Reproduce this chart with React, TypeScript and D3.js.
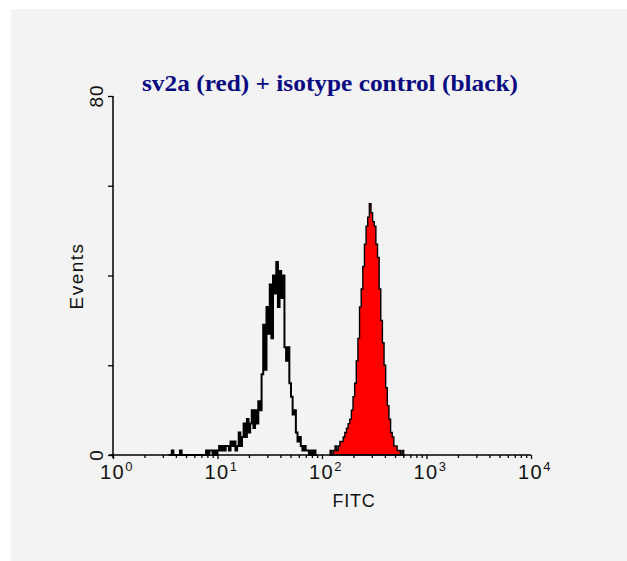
import React, { useEffect, useRef } from 'react';
import * as d3 from 'd3';

// histogram: 256 channels over 4 log decades
const channels = 256;
const decades = 4;

// isotype control (black outline), counts from channel 34
const isotypeStart = 34;
const isotypeCounts = [
    0, 0, 1, 0, 0, 0, 0, 1, 0, 0, 0, 0, 0, 0, 0, 0, 0, 0, 0, 0, 0, 0, 0,
    1, 0, 1, 1, 0, 1, 0, 1, 2, 1, 2, 1, 2, 2, 1, 3, 2, 3, 1, 2, 5, 2, 4,
    7, 4, 8, 5, 7, 10, 6, 10, 7, 12, 10, 18, 29, 19, 33, 27, 38, 26, 40, 36,
    43, 33, 41, 35, 40, 24, 21, 24, 16, 13, 9, 10, 5, 3, 4, 2, 1, 2, 1, 1,
    0, 1, 0, 1, 0,
];

// sv2a (red filled), counts from channel 133
const sv2aStart = 133;
const sv2aCounts = [
    1, 0, 1, 2, 1, 2, 3, 3, 4, 5, 6, 7, 8, 10, 13, 16, 21, 26, 33, 37,
    42, 47, 51, 53, 56, 54, 52, 51, 47, 44, 37, 30, 25, 20, 15, 11, 8, 5, 4,
    2, 2, 1, 1, 0, 1, 0,
];

const xDecades = [0, 1, 2, 3, 4];
const yTicks = [0, 20, 40, 60, 80];
const yLabels = [0, 80];
const title = 'sv2a (red) + isotype control (black)';

const chToValue = (ch: number) => Math.pow(10, (ch * decades) / channels);

export default function App() {
    const chartRef = useRef<SVGSVGElement | null>(null);

    const width = 627;
    const height = 561;

    const xScale = d3.scaleLog().domain([1, 1e4]).range([113, 531]);
    const yScale = d3.scaleLinear().domain([0, 80]).range([455, 96]);

    useEffect(() => {
        const svg = d3.select(chartRef.current);
        svg.selectAll('*').remove();

        // grey panel
        svg.append('rect')
            .attr('x', 11).attr('y', 9)
            .attr('width', width - 11).attr('height', height - 9)
            .attr('fill', '#f3f3f3');

        const toPoints = (start: number, counts: number[]) => {
            const pts = counts.map((c, i) => ({ ch: start + i, c }));
            pts.push({ ch: start + counts.length, c: 0 });
            return pts;
        };

        const area = d3.area<{ ch: number; c: number }>()
            .curve(d3.curveStepAfter)
            .x(d => xScale(chToValue(d.ch)))
            .y0(yScale(0))
            .y1(d => yScale(d.c));

        const line = d3.line<{ ch: number; c: number }>()
            .curve(d3.curveStepAfter)
            .x(d => xScale(chToValue(d.ch)))
            .y(d => yScale(d.c));

        svg.append('path')
            .attr('d', area(toPoints(sv2aStart, sv2aCounts)))
            .attr('fill', '#ff0000')
            .attr('stroke', '#000')
            .attr('stroke-width', 1.4);

        svg.append('path')
            .attr('d', line(toPoints(isotypeStart, isotypeCounts)))
            .attr('fill', 'none')
            .attr('stroke', '#000')
            .attr('stroke-width', 2);

        // x axis: minor ticks then major ticks
        const minor: number[] = [];
        for (let d = 0; d < 4; d++) {
            for (let k = 2; k < 10; k++) minor.push(k * Math.pow(10, d));
        }
        const xAxisMinor = d3.axisBottom(xScale)
            .tickValues(minor).tickSize(3).tickSizeOuter(0).tickFormat(() => '');
        const xAxisMajor = d3.axisBottom(xScale)
            .tickValues(xDecades.map(d => Math.pow(10, d)))
            .tickSize(4).tickSizeOuter(0).tickFormat(() => '');

        const gxMinor = svg.append('g').attr('transform', `translate(0,${yScale(0)})`).call(xAxisMinor);
        const gx = svg.append('g').attr('transform', `translate(0,${yScale(0)})`).call(xAxisMajor);
        [gxMinor, gx].forEach(g => {
            g.select('.domain').remove();
            g.selectAll('line').attr('stroke', '#000').attr('stroke-width', 1.3);
        });

        svg.append('line')
            .attr('x1', 109).attr('x2', 531)
            .attr('y1', yScale(0)).attr('y2', yScale(0))
            .attr('stroke', '#000').attr('stroke-width', 1.5);

        xDecades.forEach(d => {
            const t = svg.append('text')
                .attr('x', xScale(Math.pow(10, d)) - 13)
                .attr('y', 479)
                .attr('font-family', 'Liberation Sans, Arial, sans-serif')
                .attr('font-size', 20)
                .attr('letter-spacing', 1.5)
                .attr('fill', '#111');
            t.append('tspan').text('10');
            t.append('tspan').attr('font-size', 13).attr('dy', -8).attr('dx', 0).text(String(d));
        });

        svg.append('text')
            .attr('x', 354).attr('y', 507)
            .attr('text-anchor', 'middle')
            .attr('font-family', 'Liberation Sans, Arial, sans-serif')
            .attr('font-size', 18)
            .attr('letter-spacing', 0.8)
            .attr('fill', '#111')
            .text('FITC');

        // y axis
        const yAxis = d3.axisLeft(yScale).tickValues(yTicks).tickSize(5).tickSizeOuter(0).tickFormat(() => '');
        const gy = svg.append('g').attr('transform', `translate(113,0)`).call(yAxis);
        gy.select('.domain').remove();
        gy.selectAll('line').attr('stroke', '#000').attr('stroke-width', 1.3);

        svg.append('line')
            .attr('x1', 113).attr('x2', 113)
            .attr('y1', 96).attr('y2', 458)
            .attr('stroke', '#000').attr('stroke-width', 1.5);

        yLabels.forEach(v => {
            svg.append('text')
                .attr('transform', `translate(103,${yScale(v)}) rotate(-90)`)
                .attr('text-anchor', 'middle')
                .attr('font-family', 'Liberation Sans, Arial, sans-serif')
                .attr('font-size', 19)
                .attr('letter-spacing', 1)
                .attr('fill', '#111')
                .text(v);
        });

        svg.append('text')
            .attr('transform', `translate(83,276) rotate(-90)`)
            .attr('text-anchor', 'middle')
            .attr('font-family', 'Liberation Sans, Arial, sans-serif')
            .attr('font-size', 19)
            .attr('letter-spacing', 1.5)
            .attr('fill', '#111')
            .text('Events');

        // title
        svg.append('text')
            .attr('x', 142).attr('y', 91)
            .attr('font-family', 'Liberation Serif, Times New Roman, serif')
            .attr('font-weight', 'bold')
            .attr('font-size', 23)
            .attr('textLength', 376)
            .attr('lengthAdjust', 'spacingAndGlyphs')
            .attr('fill', '#0a0a80')
            .text(title);
    });

    return (
        <svg ref={chartRef}
            width={width}
            height={height}
            style={{ position: 'absolute', left: 0, top: 0, background: '#fff' }}>
        </svg>
    );
}
